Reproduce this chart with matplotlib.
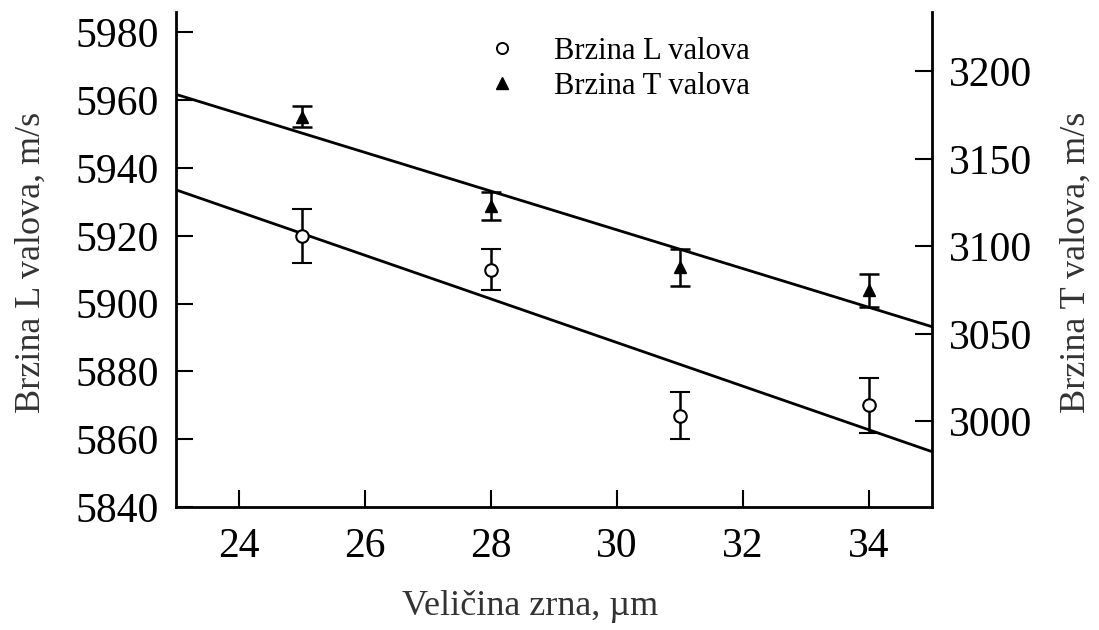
import numpy as np
import matplotlib.pyplot as plt
from matplotlib.lines import Line2D

plt.rcParams['font.family'] = ['Liberation Serif', 'DejaVu Serif']

# grain size, um
grain = [25, 28, 31, 34]

# L waves (left axis)
v_L = [5920, 5910, 5867, 5870]
err_L = [8, 6, 7, 8]

# T waves (right axis)
v_T = [3174, 3123, 3088, 3075]
err_T = [6, 8, 10.5, 9.5]

x_ticks = [24, 26, 28, 30, 32, 34]
L_ticks = [5840, 5860, 5880, 5900, 5920, 5940, 5960, 5980]
T_ticks = [3000, 3050, 3100, 3150, 3200]

fig = plt.figure(figsize=(10.99, 6.3), dpi=100)
ax = fig.add_axes([0.160, 0.195, 0.688, 0.786])
ax2 = ax.twinx()

x_min, x_max = 23, 35
ax.set_xlim(x_min, x_max)
ax.set_ylim(5840, 5986)
ax2.set_ylim(2951, 3234)

# linear fits
xx = np.array([x_min, x_max])
pL = np.polyfit(grain, v_L, 1)
pT = np.polyfit(grain, v_T, 1)
ax.plot(xx, np.polyval(pL, xx), color='black', lw=2.0, zorder=2)
ax2.plot(xx, np.polyval(pT, xx), color='black', lw=2.0, zorder=2)

ax.errorbar(grain, v_L, yerr=err_L, fmt='o', color='black', mfc='white', mec='black',
            ms=9, mew=1.5, elinewidth=1.8, capsize=7, capthick=1.8, zorder=3)
ax2.errorbar(grain, v_T, yerr=err_T, fmt='^', color='black', mfc='black', mec='black',
             ms=9, elinewidth=1.8, capsize=7, capthick=1.8, zorder=3)

ax.set_xticks(x_ticks)
ax.set_yticks(L_ticks)
ax2.set_yticks(T_ticks)

for a in (ax, ax2):
    a.spines['top'].set_visible(False)
    for s in a.spines.values():
        s.set_linewidth(2)
    a.tick_params(direction='in', length=12, width=1.5, labelsize=30, pad=12)
ax.spines['right'].set_visible(False)
ax2.spines['left'].set_visible(False)
ax2.spines['bottom'].set_visible(False)
ax.tick_params(axis='x', labelsize=30, pad=15)

fig.text(0.028, 0.583, 'Brzina L valova, m/s', rotation=90, ha='center', va='center', fontsize=26, color='#333333')
fig.text(0.979, 0.584, 'Brzina T valova, m/s', rotation=90, ha='center', va='center', fontsize=26, color='#333333')
fig.text(0.482, 0.038, 'Veličina zrna, µm', ha='center', va='center', fontsize=26, color='#333333')

handles = [
    Line2D([], [], ls='none', marker='o', mfc='white', mec='black', ms=8, mew=1.4),
    Line2D([], [], ls='none', marker='^', mfc='black', mec='black', ms=9),
]
ax.legend(handles, ['Brzina L valova', 'Brzina T valova'], loc='upper left',
          bbox_to_anchor=(0.418, 0.985), bbox_transform=fig.transFigure,
          frameon=False, fontsize=22, handlelength=1.0, handletextpad=1.2,
          labelspacing=0.2)

fig.savefig('out.png', dpi=100)
